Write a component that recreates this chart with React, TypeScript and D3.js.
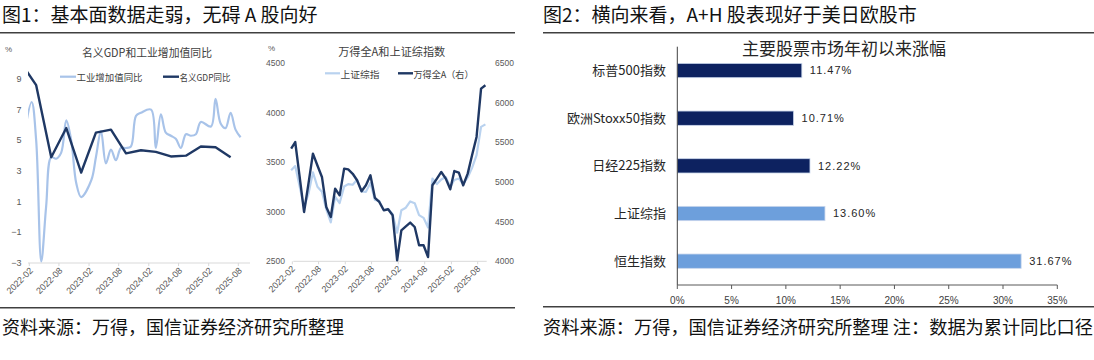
import React from 'react';
import * as d3 from 'd3';

// ---------- Data ----------
// Figure 1 left: industrial value added yoy (monthly) and nominal GDP yoy (quarterly), %
const ipMonths = [
  '2021-12',
  '2022-02', '2022-03', '2022-04', '2022-05', '2022-06', '2022-07', '2022-08', '2022-09', '2022-10', '2022-11', '2022-12',
  '2023-02', '2023-03', '2023-04', '2023-05', '2023-06', '2023-07', '2023-08', '2023-09', '2023-10', '2023-11', '2023-12',
  '2024-02', '2024-03', '2024-04', '2024-05', '2024-06', '2024-07', '2024-08', '2024-09', '2024-10', '2024-11', '2024-12',
  '2025-02', '2025-03', '2025-04', '2025-05', '2025-06', '2025-07', '2025-08',
];
const ipValues = [
  4.3,
  7.5, 5.0, -2.9, 0.7, 3.9, 3.8, 4.2, 6.3, 5.0, 2.2, 1.3,
  2.4, 3.9, 5.6, 3.5, 4.4, 3.7, 4.5, 4.5, 4.6, 6.6, 6.8,
  7.0, 4.5, 6.7, 5.5, 5.3, 5.1, 4.5, 5.4, 5.3, 5.4, 6.2,
  5.9, 7.7, 6.1, 5.8, 6.8, 5.7, 5.2,
];
const gdpQuarters = [
  '2021-12', '2022-03', '2022-06', '2022-09', '2022-12', '2023-03', '2023-06', '2023-09',
  '2023-12', '2024-03', '2024-06', '2024-09', '2024-12', '2025-03', '2025-06',
];
const gdpValues = [10.0, 8.6, 3.9, 5.8, 2.9, 5.5, 5.7, 4.15, 4.35, 4.25, 3.95, 4.0, 4.6, 4.55, 3.9];
const gdpYTicks = [9, 7, 5, 3, 1, -1, -3];

// Figure 1 right: month-end index levels
const indexMonths = [
  '2022-01', '2022-02', '2022-03', '2022-04', '2022-05', '2022-06', '2022-07', '2022-08', '2022-09', '2022-10', '2022-11', '2022-12',
  '2023-01', '2023-02', '2023-03', '2023-04', '2023-05', '2023-06', '2023-07', '2023-08', '2023-09', '2023-10', '2023-11', '2023-12',
  '2024-01', '2024-02', '2024-03', '2024-04', '2024-05', '2024-06', '2024-07', '2024-08', '2024-09', '2024-10', '2024-11', '2024-12',
  '2025-01', '2025-02', '2025-03', '2025-04', '2025-05', '2025-06', '2025-07', '2025-08', '2025-09',
];
const sseValues = [
  3420, 3462, 3252, 3047, 3186, 3398, 3253, 3202, 3024, 2893, 3151, 3089,
  3255, 3280, 3273, 3323, 3205, 3202, 3291, 3120, 3110, 3019, 3030, 2975,
  2789, 3015, 3041, 3105, 3087, 2967, 2939, 2842, 3336, 3280, 3326, 3352,
  3251, 3321, 3336, 3279, 3347, 3444, 3573, 3858, 3883,
];
const windAValues = [
  5423, 5506, 5060, 4623, 4990, 5360, 5210, 5065, 4686, 4559, 4918, 4833,
  5170, 5160, 5105, 5023, 4884, 4960, 5086, 4800, 4749, 4644, 4657, 4581,
  4013, 4391, 4440, 4489, 4433, 4202, 4202, 4054, 4960, 5044, 5128, 5044,
  4909, 5140, 5120, 4960, 5107, 5338, 5570, 6180, 6222,
];
const sseTicks = [4500, 4000, 3500, 3000, 2500];
const windATicks = [6500, 6000, 5500, 5000, 4500, 4000];
const xTickLabels = ['2022-02', '2022-08', '2023-02', '2023-08', '2024-02', '2024-08', '2025-02', '2025-08'];

// Figure 2: YTD gains
const barCategories = ['标普500指数', '欧洲Stoxx50指数', '日经225指数', '上证综指', '恒生指数'];
const barValues = [11.47, 10.71, 12.22, 13.6, 31.67];
const barGroup = ['海外', '海外', '海外', '中国', '中国'];
const barTicks = [0, 5, 10, 15, 20, 25, 30, 35];

// ---------- Styles ----------
const CJK = '"Noto Sans CJK SC", "Noto Sans", sans-serif';
const NUM = '"Liberation Sans", Arial, sans-serif';
const DARK = '#1f3864';
const LIGHT1 = '#a8c3e9';
const LIGHT2 = '#b9d2ef';
const AXIS_GRAY = '#d9d9d9';
const TICK_TXT = '#595959';

const parseMonth = d3.timeParse('%Y-%m');
const midMonth = (s: string) => d3.timeDay.offset(parseMonth(s) as Date, 14);
const monthEnd = (s: string) => d3.timeDay.offset(d3.timeMonth.offset(parseMonth(s) as Date, 1), -1);

export default function App() {
  // ----- left chart scales -----
  const lx = d3.scaleTime().domain([parseMonth('2022-02')!, parseMonth('2025-08')!]).range([29.3, 238.3]);
  const ly = d3.scaleLinear().domain([-3, 9]).range([263, 79]);
  const lAxisY = ly(-3);
  const lPlotL = 28, lPlotR = 250;

  const ipPts = ipMonths.map((m, i) => [lx(midMonth(m)), ly(ipValues[i])] as [number, number]);
  const gdpPts = gdpQuarters.map((m, i) => [lx(midMonth(m)), ly(gdpValues[i])] as [number, number]);
  const smooth = d3.line().curve(d3.curveCatmullRom.alpha(0.5));
  const straight = d3.line();

  // ----- right line chart scales -----
  const rx = d3.scaleTime().domain([parseMonth('2022-02')!, parseMonth('2025-08')!]).range([291.3, 476.7]);
  const ryL = d3.scaleLinear().domain([2500, 4500]).range([261.3, 63.3]);
  const ryR = d3.scaleLinear().domain([4000, 6500]).range([261.3, 63.3]);
  const rAxisY = ryL(2500);
  const ssePts = indexMonths.map((m, i) => [rx(monthEnd(m)), ryL(sseValues[i])] as [number, number]);
  const windPts = indexMonths.map((m, i) => [rx(monthEnd(m)), ryR(windAValues[i])] as [number, number]);

  // ----- bar chart scales -----
  const bx = d3.scaleLinear().domain([0, 35]).range([677.3, 1057.3]);
  const by = d3.scaleBand().domain(barCategories).range([46.7, 285]).padding(0);
  const barH = by.bandwidth() * 0.3;
  const barColor = (g: string) => (g === '海外' ? '#0d2260' : '#6d9fdc');

  const xTickLeft = (s: string) => lx(parseMonth(s)!);
  const xTickRight = (s: string) => rx(parseMonth(s)!) + 1;

  return (
    <svg width={1094} height={360} style={{ position: 'absolute', left: 0, top: 0, background: '#fff' }}>
      <defs>
        <clipPath id="lclip">
          <rect x={lPlotL} y={0} width={lPlotR - lPlotL} height={360} />
        </clipPath>
      </defs>
      <rect x={0} y={0} width={1094} height={360} fill="#fff" />

      {/* Headers */}
      <text x={2} y={22} fontFamily={CJK} fontSize={19} fill="#111">图1：基本面数据走弱，无碍 A 股向好</text>
      <text x={543} y={22} fontFamily={CJK} fontSize={19} fill="#111">图2：横向来看，A+H 股表现好于美日欧股市</text>
      <line x1={0} x2={515} y1={32.7} y2={32.7} stroke="#404040" strokeWidth={1.6} />
      <line x1={543} x2={1094} y1={32.7} y2={32.7} stroke="#404040" strokeWidth={1.6} />
      <line x1={0} x2={515} y1={307.7} y2={307.7} stroke="#404040" strokeWidth={1.6} />
      <line x1={543} x2={1094} y1={306.7} y2={306.7} stroke="#404040" strokeWidth={1.6} />
      <text x={2} y={334} fontFamily={CJK} fontSize={18} fill="#111">资料来源：万得，国信证券经济研究所整理</text>
      <text x={543} y={334} fontFamily={CJK} fontSize={18} fill="#111" textLength={550} lengthAdjust="spacingAndGlyphs">资料来源：万得，国信证券经济研究所整理 注：数据为累计同比口径</text>

      {/* ---------- Left chart: GDP & IP ---------- */}
      <text x={5} y={52} fontFamily={NUM} fontSize={8} fill={TICK_TXT}>%</text>
      <text x={147} y={57} textAnchor="middle" fontFamily={CJK} fontSize={11.5} fill="#404040" textLength={130} lengthAdjust="spacingAndGlyphs">名义GDP和工业增加值同比</text>
      <line x1={60} x2={76} y1={76.7} y2={76.7} stroke={LIGHT1} strokeWidth={2.2} />
      <text x={76.5} y={81} fontFamily={CJK} fontSize={9.5} fill="#404040" textLength={66} lengthAdjust="spacingAndGlyphs">工业增加值同比</text>
      <line x1={163} x2={179} y1={76.7} y2={76.7} stroke={DARK} strokeWidth={2.4} />
      <text x={179.5} y={81} fontFamily={CJK} fontSize={9.5} fill="#404040" textLength={51} lengthAdjust="spacingAndGlyphs">名义GDP同比</text>
      {gdpYTicks.map((t) => (
        <text key={t} x={21.5} y={ly(t)} dy="0.35em" textAnchor="end" fontFamily={NUM} fontSize={9} fill={TICK_TXT}>
          {t < 0 ? `−${Math.abs(t)}` : t}
        </text>
      ))}
      <line x1={lPlotL} x2={lPlotR} y1={lAxisY} y2={lAxisY} stroke={AXIS_GRAY} strokeWidth={1} />
      {xTickLabels.map((s) => (
        <g key={s}>
          <line x1={xTickLeft(s)} x2={xTickLeft(s)} y1={lAxisY} y2={lAxisY + 3} stroke={AXIS_GRAY} />
          <text transform={`translate(${xTickLeft(s) + 2},${lAxisY + 6}) rotate(-45)`} textAnchor="end" dy="0.35em" fontFamily={NUM} fontSize={9} fill={TICK_TXT}>{s}</text>
        </g>
      ))}
      <g clipPath="url(#lclip)">
        <path d={smooth(ipPts) || ''} fill="none" stroke={LIGHT1} strokeWidth={2.2} strokeLinejoin="round" />
        <path d={straight(gdpPts) || ''} fill="none" stroke={DARK} strokeWidth={2.4} strokeLinejoin="round" />
      </g>

      {/* ---------- Right chart: Wind All A & SSE ---------- */}
      <text x={268} y={51} fontFamily={NUM} fontSize={8} fill={TICK_TXT}>%</text>
      <text x={391.7} y={55.5} textAnchor="middle" fontFamily={CJK} fontSize={11.5} fill="#404040" textLength={107} lengthAdjust="spacingAndGlyphs">万得全A和上证综指数</text>
      <line x1={325} x2={340} y1={73.3} y2={73.3} stroke={LIGHT2} strokeWidth={2.2} />
      <text x={340.5} y={77.5} fontFamily={CJK} fontSize={9.5} fill="#404040" textLength={39} lengthAdjust="spacingAndGlyphs">上证综指</text>
      <line x1={398} x2={413} y1={73.3} y2={73.3} stroke={DARK} strokeWidth={2.4} />
      <text x={413.5} y={77.5} fontFamily={CJK} fontSize={9.5} fill="#404040" textLength={60} lengthAdjust="spacingAndGlyphs">万得全A（右）</text>
      {sseTicks.map((t) => (
        <text key={t} x={285} y={ryL(t)} dy="0.35em" textAnchor="end" fontFamily={NUM} fontSize={8.5} fill={TICK_TXT}>{t}</text>
      ))}
      {windATicks.map((t) => (
        <text key={t} x={495} y={ryR(t)} dy="0.35em" textAnchor="start" fontFamily={NUM} fontSize={8.5} fill={TICK_TXT}>{t}</text>
      ))}
      <line x1={293.3} x2={486.7} y1={rAxisY} y2={rAxisY} stroke={AXIS_GRAY} strokeWidth={1} />
      {xTickLabels.map((s) => (
        <g key={s}>
          <line x1={xTickRight(s)} x2={xTickRight(s)} y1={rAxisY} y2={rAxisY + 3} stroke={AXIS_GRAY} />
          <text transform={`translate(${xTickRight(s) + 1},${rAxisY + 6}) rotate(-45)`} textAnchor="end" dy="0.35em" fontFamily={NUM} fontSize={9} fill={TICK_TXT}>{s}</text>
        </g>
      ))}
      <path d={straight(ssePts) || ''} fill="none" stroke={LIGHT2} strokeWidth={2.2} strokeLinejoin="round" />
      <path d={straight(windPts) || ''} fill="none" stroke={DARK} strokeWidth={2.4} strokeLinejoin="round" />

      {/* ---------- Bar chart ---------- */}
      <text x={844} y={54.5} textAnchor="middle" fontFamily={CJK} fontSize={17} fill="#262626">主要股票市场年初以来涨幅</text>
      {barCategories.map((c, i) => {
        const y0 = (by(c) as number) + (by.bandwidth() - barH) / 2;
        return (
          <g key={c}>
            <rect x={bx(0)} y={y0} width={bx(barValues[i]) - bx(0)} height={barH} fill={barColor(barGroup[i])} stroke="#c9d6ec" strokeWidth={0.8} />
            <text x={666} y={y0 + barH / 2} dy="0.35em" textAnchor="end" fontFamily={CJK} fontSize={13} fill="#262626">{c}</text>
            <text x={bx(barValues[i]) + 8} y={y0 + barH / 2} dy="0.35em" fontFamily={NUM} fontSize={11} letterSpacing={1} fill="#262626">{barValues[i].toFixed(2)}%</text>
          </g>
        );
      })}
      <line x1={bx(0)} x2={bx(0)} y1={46.7} y2={285} stroke="#404040" strokeWidth={1} />
      <line x1={bx(0)} x2={bx(35)} y1={285} y2={285} stroke="#595959" strokeWidth={1} />
      {barTicks.map((t) => (
        <g key={t}>
          <line x1={bx(t)} x2={bx(t)} y1={285} y2={289} stroke="#595959" />
          <text x={bx(t)} y={300} dy="0.35em" textAnchor="middle" fontFamily={NUM} fontSize={10} fill="#404040">{t}%</text>
        </g>
      ))}
    </svg>
  );
}
